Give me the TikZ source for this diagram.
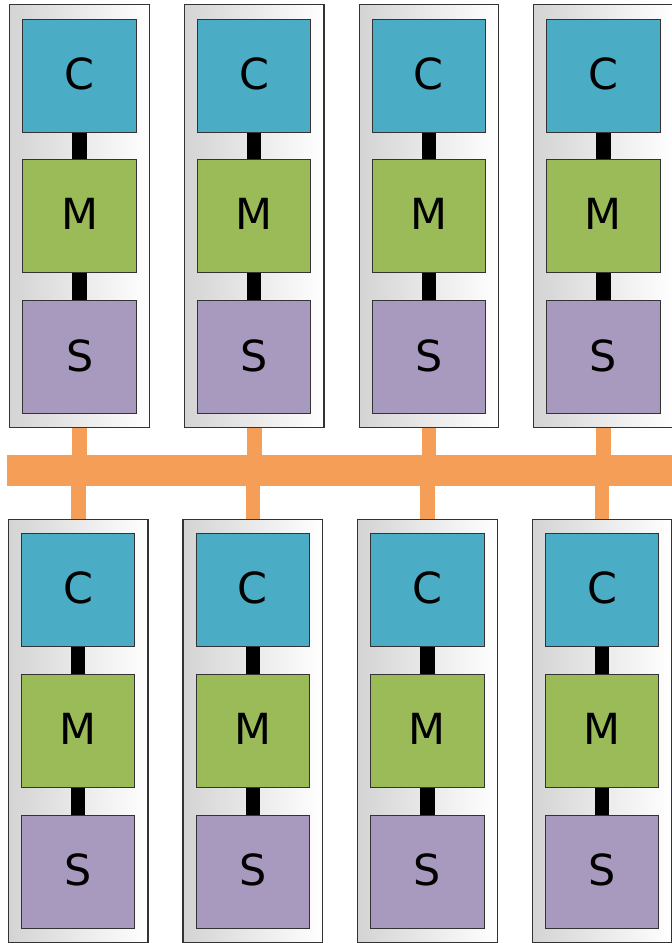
\documentclass[tikz,border=0pt]{standalone}
\usepackage{fontspec}
\setmainfont{DejaVu Sans}
\definecolor{cpu}{HTML}{4BACC6}
\definecolor{mem}{HTML}{9BBB59}
\definecolor{sto}{HTML}{A89ABE}
\definecolor{net}{HTML}{F59E58}
\begin{document}
\begin{tikzpicture}[x=1bp,y=-1bp,
  cell/.style={draw=black!80, line width=1.2bp, left color=black!17, right color=white,
    minimum width=139.5bp, minimum height=423bp, inner sep=0pt},
  unit/.style={draw=black!80, line width=1bp, minimum width=113.4bp, minimum height=113bp,
    inner sep=0pt, text depth=4.5bp, font=\fontsize{43}{50}\selectfont},
  wire/.style={line width=14.4bp, black},
  link/.style={line width=14.6bp, net},
  busline/.style={line width=30.4bp, net}]
  \useasboundingbox (0,0) rectangle (672,943);

  % shared bus between the two rows
  \coordinate (busW) at (7.3,470.5);
  \coordinate (busE) at (690,470.5);
  \draw[busline] (busW) -- (busE);

  \foreach \i in {0,1,2,3} {
    % upper row of nodes
    \node[cell] (t\i) at (79.65+174.6*\i,216.35) {};
    \node[unit, fill=cpu] (tc\i) at ([yshift=140.7bp]t\i.center) {C};
    \node[unit, fill=mem] (tm\i) at (t\i.center) {M};
    \node[unit, fill=sto] (ts\i) at ([yshift=-141bp]t\i.center) {S};
    % lower row of nodes
    \node[cell] (b\i) at (78.2+174.6*\i,730.8) {};
    \node[unit, fill=cpu] (bc\i) at ([yshift=140.7bp]b\i.center) {C};
    \node[unit, fill=mem] (bm\i) at (b\i.center) {M};
    \node[unit, fill=sto] (bs\i) at ([yshift=-141bp]b\i.center) {S};
    % links inside each node and down to the bus
    \draw[wire] (tc\i.south) -- (tm\i.north);
    \draw[wire] (tm\i.south) -- (ts\i.north);
    \draw[wire] (bc\i.south) -- (bm\i.north);
    \draw[wire] (bm\i.south) -- (bs\i.north);
    \draw[link] (t\i.south) -- (t\i.south |- busW);
    \draw[link] (b\i.north) -- (b\i.north |- busW);
  }
\end{tikzpicture}
\end{document}
